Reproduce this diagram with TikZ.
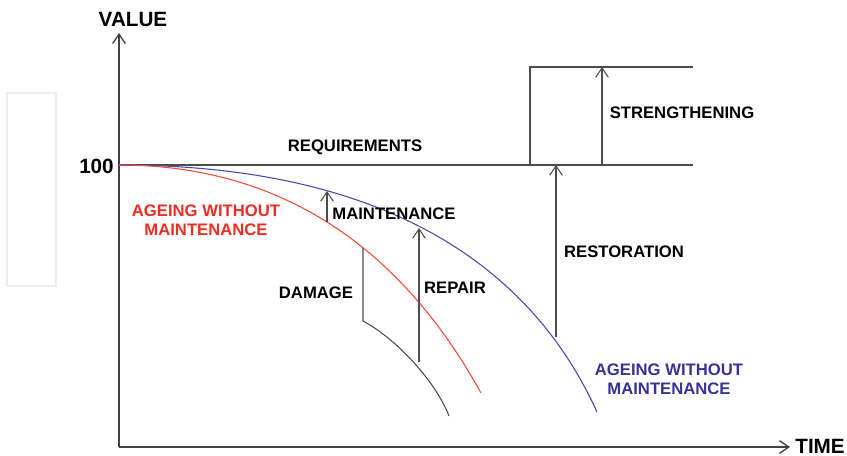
\documentclass[tikz,border=0pt]{standalone}
\usepackage{fontspec}
\setmainfont{Liberation Sans}[BoldFont=Liberation Sans Bold]
\usepackage{tikz}
\usetikzlibrary{arrows.meta}
\usetikzlibrary{positioning}
\definecolor{agered}{RGB}{235,45,35}
\definecolor{ageblue}{RGB}{55,50,150}
\definecolor{curvered}{RGB}{240,75,55}
\definecolor{curveblue}{RGB}{75,70,175}
\tikzstyle{lbl}=[font=\bfseries\fontsize{12.5}{14.5}\selectfont, inner sep=0,
                 text=black, align=center]
\tikzstyle{biglbl}=[font=\bfseries\fontsize{15.5}{18}\selectfont, inner sep=0,
                    text=black]
\tikzstyle{axis}=[draw=black!75, line width=1pt]
\tikzstyle{lev}=[draw=black!70, line width=0.8pt]
\tikzstyle{ageing}=[line width=0.8pt]

\begin{document}
\begin{tikzpicture}[x=0.75pt, y=-0.75pt,
  >={Straight Barb[length=7pt,width=9.5pt]}]
  \path[use as bounding box] (0,0) rectangle (847,456);
  % faint frame on the left
  \draw[black!7, line width=1.5pt] (7,93) rectangle (56,286);
  % axes
  \coordinate (o) at (119,447);
  \coordinate (ytip) at (119,33);
  \coordinate (xtip) at (790,447);
  \draw[axis,->] (o) -- (ytip);
  \draw[axis,->] (o) -- (xtip);
  \node[biglbl] (value) at (133,19) {VALUE};
  \node[biglbl, anchor=east] (time) at (845,446) {TIME};
  \node[biglbl, anchor=east] (hundred) at (114,166) {100};
  % requirement levels
  \coordinate (r0) at (119,165);
  \coordinate (r1) at (693,165);
  \coordinate (s0) at (530,165);
  \coordinate (s1) at (530,67);
  \coordinate (s2) at (693,67);
  \draw[lev] (r0) -- (r1);
  \draw[lev] (s0) -- (s1) -- (s2);
  % ageing curves
  \coordinate (bend) at (597,412);
  \coordinate (rend) at (481,393);
  \draw[ageing, curveblue] (r0) .. controls (380,165) and (529,262) .. (bend);
  \draw[ageing, curvered] (r0) .. controls (310,165) and (418,279) .. (rend);
  % damage
  \coordinate (d0) at (363,248);
  \coordinate (d1) at (363,321);
  \coordinate (dend) at (449,416);
  \draw[lev] (d0) -- (d1) .. controls (395,338) and (435,380) .. (dend);
  % interventions
  \coordinate (m0) at (327,222);
  \coordinate (m1) at (327,191);
  \coordinate (p0) at (419,362);
  \coordinate (p1) at (419,228);
  \coordinate (q0) at (556,337);
  \coordinate (q1) at (556,165);
  \coordinate (t0) at (602,165);
  \coordinate (t1) at (602,67);
  \draw[lev,->] (m0) -- (m1);
  \draw[lev,->] (p0) -- (p1);
  \draw[lev,->] (q0) -- (q1);
  \draw[lev,->] (t0) -- (t1);
  % labels
  \node[lbl] (req) at (355,147) {REQUIREMENTS};
  \node[lbl] (maint) at (394,214) {MAINTENANCE};
  \node[lbl] (damage) at (316,293) {DAMAGE};
  \node[lbl] (repair) at (455,288) {REPAIR};
  \node[lbl] (resto) at (624,252) {RESTORATION};
  \node[lbl] (streng) at (682,113) {STRENGTHENING};
  \node[lbl, text=agered] (agered) at (206,220) {AGEING WITHOUT\\MAINTENANCE};
  \node[lbl, text=ageblue] (ageblue) at (669,379) {AGEING WITHOUT\\MAINTENANCE};
\end{tikzpicture}
\end{document}
